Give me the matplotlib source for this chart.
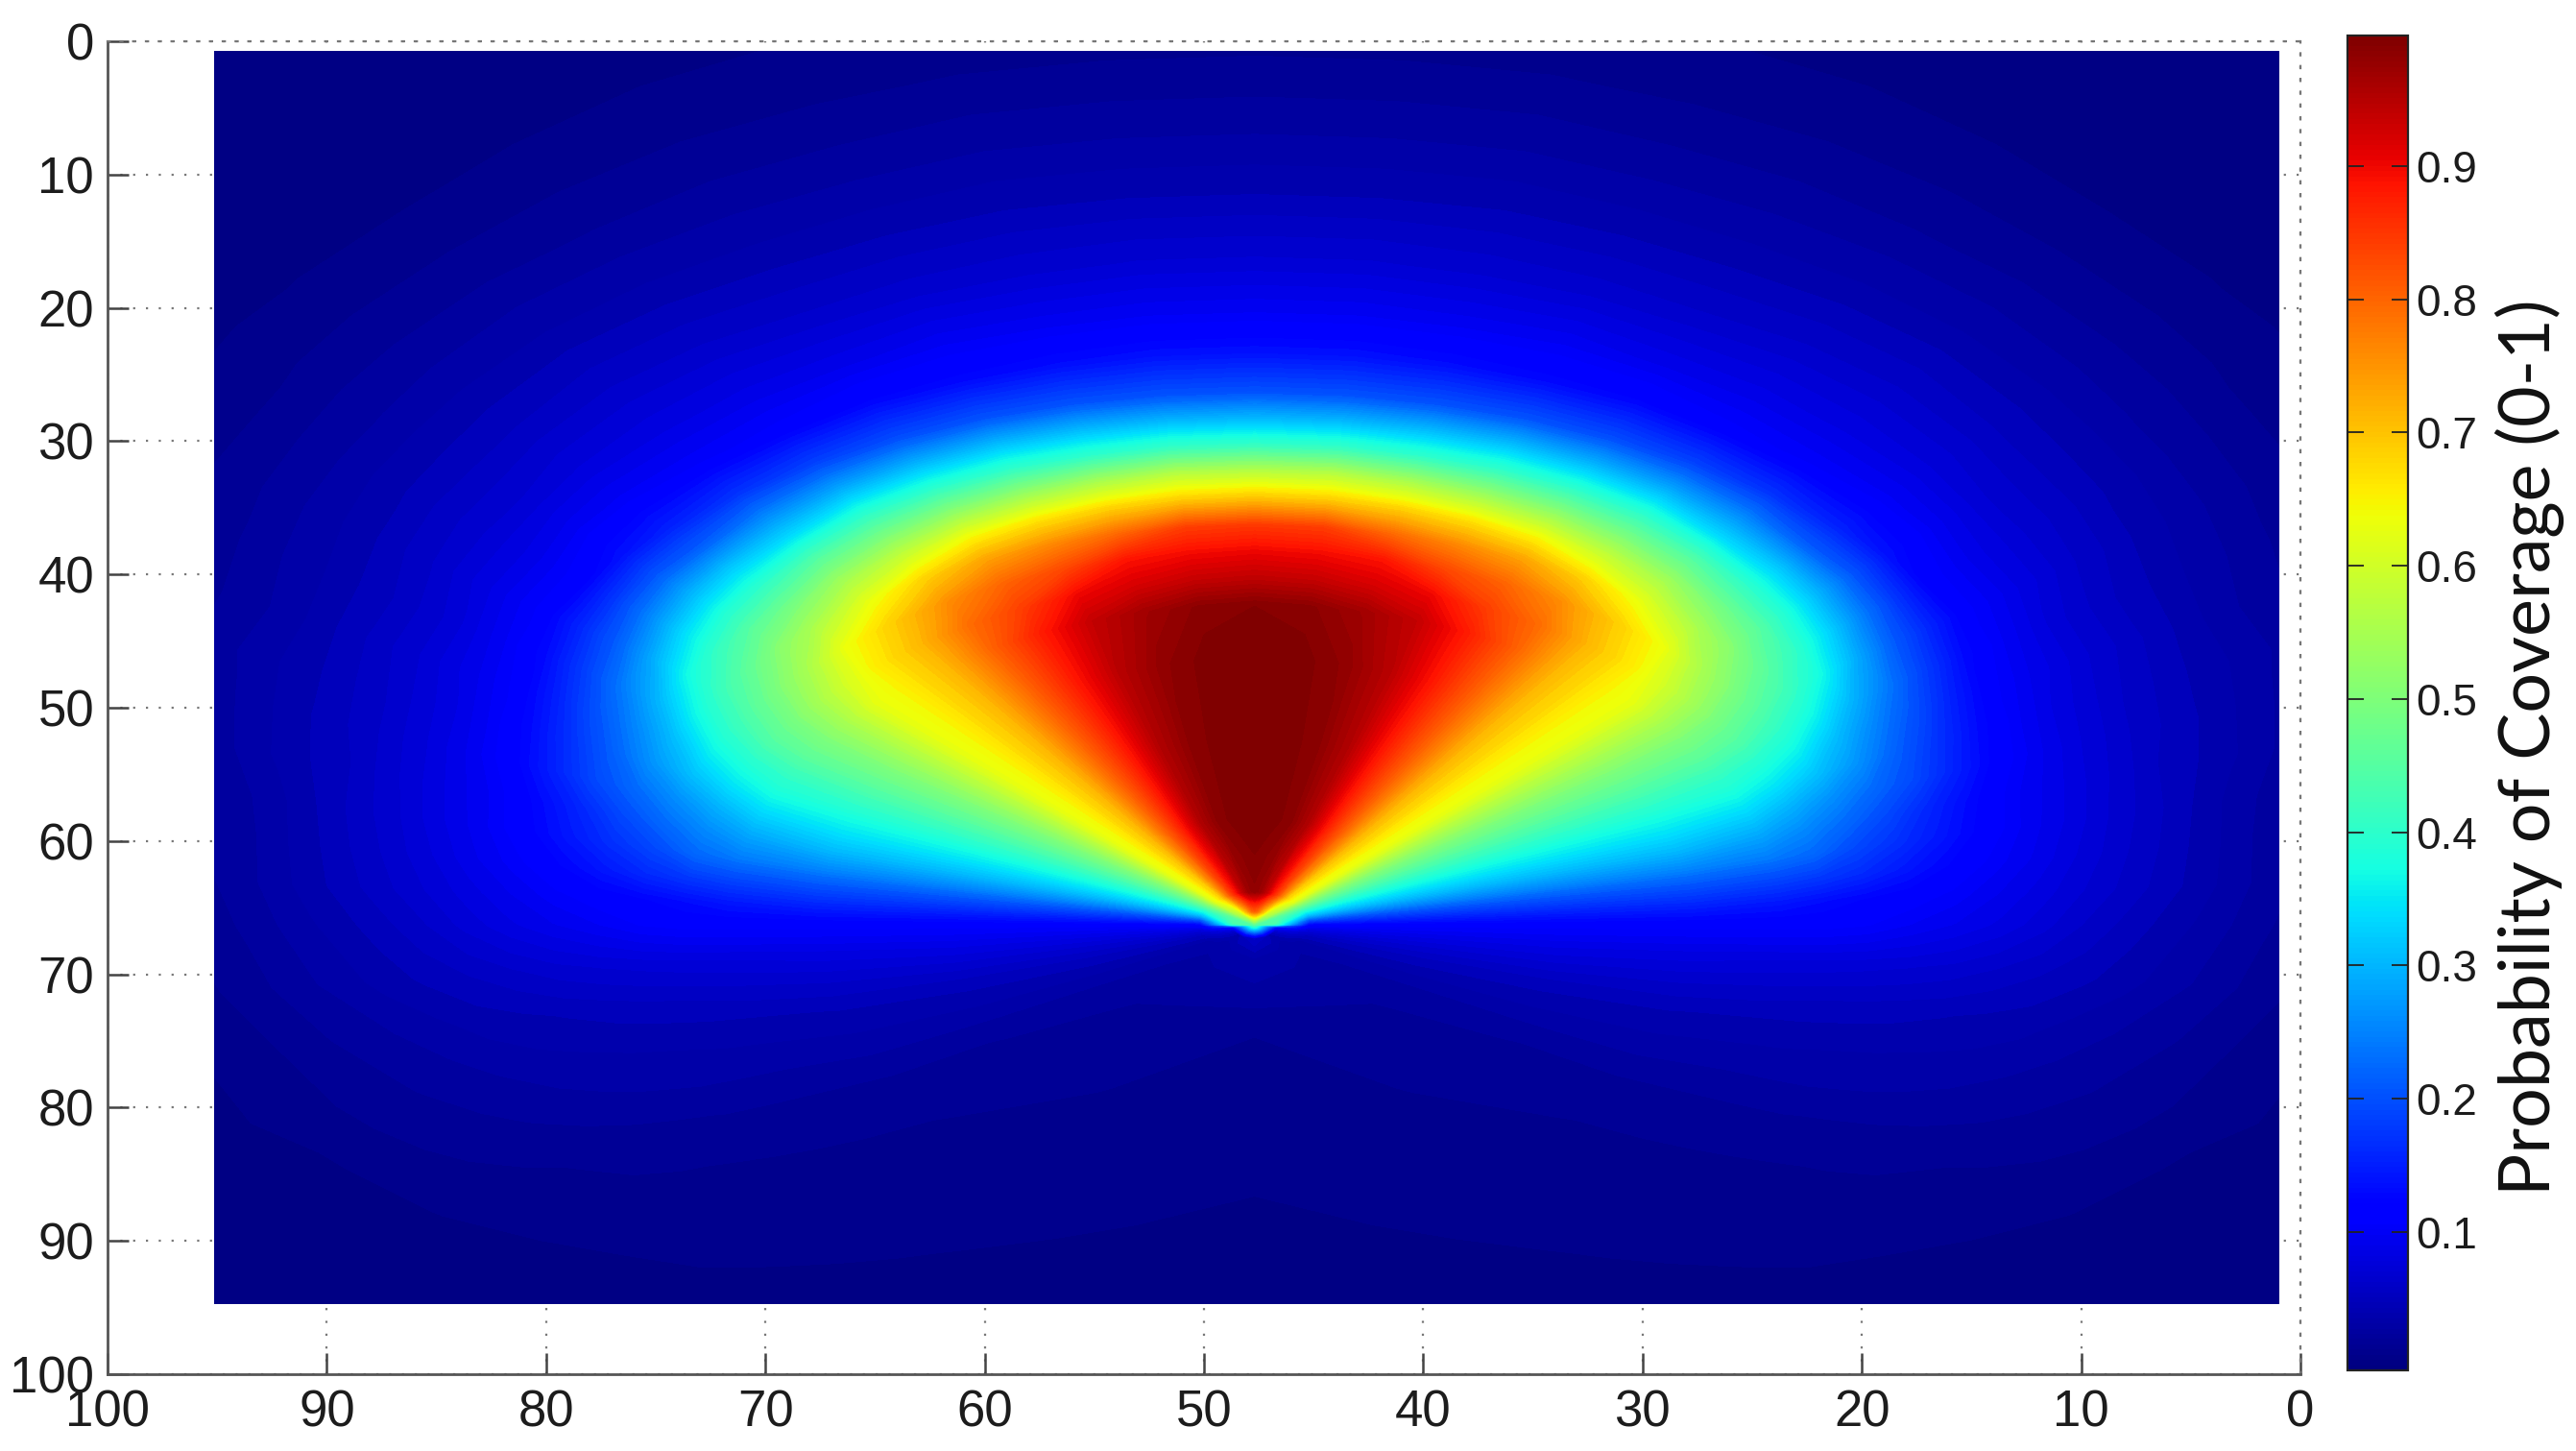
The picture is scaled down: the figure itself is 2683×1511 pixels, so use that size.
import numpy as np
import matplotlib
matplotlib.use('Agg')
import matplotlib.pyplot as plt
from matplotlib.cm import ScalarMappable
from matplotlib.colors import Normalize
from matplotlib.patches import Rectangle

W, H = 2683, 1511

apex_x, apex_y = 47.7, 66.3
radius = [0, 1, 2.5, 8, 14, 20, 24, 26, 28, 30, 32, 34, 36, 38, 40, 43, 46, 50, 55, 60, 65, 70, 80, 90]
angle_deg = [0, 6, 12, 18, 24, 30, 36, 42, 46, 50, 54, 58, 62, 66, 70, 74, 78, 82, 86, 90,
             96, 102, 108, 114, 120, 126, 135, 150, 180]
coverage = [
    [.45, .80, .98, 1.0, 1.0, 1.0, .99, .94, .90, .845, .70, .57, .41, .30, .20, .134, .097, .067, .042, .025, .012, .003, 0, 0],
    [.45, .79, .97, .995, .995, .995, .985, .935, .895, .84, .695, .57, .41, .30, .20, .134, .097, .067, .042, .025, .012, .003, 0, 0],
    [.45, .76, .94, .985, .985, .98, .965, .92, .885, .794, .68, .55, .40, .30, .20, .13, .095, .065, .042, .025, .012, .003, 0, 0],
    [.45, .72, .89, .95, .95, .945, .935, .90, .832, .76, .66, .53, .40, .30, .20, .125, .095, .063, .04, .023, .011, .003, 0, 0],
    [.45, .68, .84, .88, .88, .88, .875, .84, .80, .735, .635, .51, .39, .29, .195, .122, .088, .06, .038, .022, .01, .002, 0, 0],
    [.45, .62, .77, .80, .80, .80, .80, .79, .755, .685, .585, .48, .375, .275, .185, .11, .085, .06, .037, .02, .008, 0, 0, 0],
    [.45, .58, .69, .71, .71, .71, .71, .71, .69, .625, .54, .445, .335, .25, .17, .103, .08, .058, .035, .018, .005, 0, 0, 0],
    [.45, .56, .64, .65, .65, .65, .65, .65, .63, .555, .48, .395, .31, .21, .15, .10, .075, .052, .031, .015, .004, 0, 0, 0],
    [.45, .54, .62, .625, .625, .625, .625, .60, .56, .515, .45, .37, .285, .20, .135, .095, .068, .048, .028, .013, .003, 0, 0, 0],
    [.45, .51, .56, .565, .565, .565, .56, .545, .51, .465, .41, .335, .25, .175, .115, .085, .065, .045, .025, .01, .001, 0, 0, 0],
    [.45, .485, .51, .51, .51, .51, .505, .49, .46, .42, .365, .285, .21, .155, .11, .082, .06, .04, .022, .008, 0, 0, 0, 0],
    [.45, .455, .465, .465, .465, .465, .46, .445, .41, .365, .30, .24, .18, .13, .10, .07, .052, .035, .018, .005, 0, 0, 0, 0],
    [.45, .45, .42, .42, .42, .42, .41, .39, .36, .305, .25, .20, .15, .11, .09, .067, .05, .03, .014, .002, 0, 0, 0, 0],
    [.45, .45, .375, .375, .375, .375, .37, .345, .31, .265, .215, .17, .13, .10, .08, .06, .045, .03, .012, 0, 0, 0, 0, 0],
    [.45, .45, .34, .34, .34, .34, .325, .295, .26, .225, .19, .15, .115, .092, .075, .055, .042, .025, .01, 0, 0, 0, 0, 0],
    [.45, .44, .30, .30, .30, .30, .28, .255, .225, .19, .155, .125, .10, .085, .07, .05, .038, .02, .008, 0, 0, 0, 0, 0],
    [.45, .44, .25, .25, .25, .25, .24, .225, .19, .165, .14, .115, .095, .08, .065, .047, .03, .015, .005, 0, 0, 0, 0, 0],
    [.45, .43, .195, .195, .195, .195, .185, .175, .16, .14, .12, .102, .088, .073, .06, .043, .027, .013, .002, 0, 0, 0, 0, 0],
    [.45, .42, .15, .15, .15, .15, .14, .13, .12, .112, .102, .09, .078, .066, .055, .04, .025, .01, .002, 0, 0, 0, 0, 0],
    [.45, .38, .11, .11, .11, .11, .11, .11, .106, .097, .089, .08, .069, .057, .047, .034, .021, .008, 0, 0, 0, 0, 0, 0],
    [.45, .20, .085, .085, .085, .08, .075, .073, .07, .067, .063, .057, .051, .045, .038, .027, .016, .004, 0, 0, 0, 0, 0, 0],
    [.45, .12, .065, .065, .065, .06, .055, .052, .05, .047, .044, .041, .038, .032, .027, .019, .01, .002, 0, 0, 0, 0, 0, 0],
    [.45, .09, .05, .05, .047, .044, .04, .039, .037, .036, .034, .032, .028, .024, .02, .014, .007, .001, 0, 0, 0, 0, 0, 0],
    [.45, .07, .042, .04, .038, .035, .032, .031, .03, .028, .026, .023, .02, .017, .014, .009, .002, 0, 0, 0, 0, 0, 0, 0],
    [.45, .06, .032, .03, .028, .026, .022, .021, .02, .018, .016, .014, .012, .01, .008, .004, .001, 0, 0, 0, 0, 0, 0, 0],
    [.45, .05, .03, .024, .02, .017, .015, .014, .013, .012, .011, .01, .008, .006, .004, .002, 0, 0, 0, 0, 0, 0, 0, 0],
    [.45, .04, .028, .02, .016, .012, .01, .009, .008, .007, .006, .005, .004, .002, .001, 0, 0, 0, 0, 0, 0, 0, 0, 0],
    [.45, .05, .03, .017, .012, .008, .006, .005, .004, .003, .002, .001, 0, 0, 0, 0, 0, 0, 0, 0, 0, 0, 0, 0],
    [.45, .06, .035, .012, .007, .004, .002, .001, 0, 0, 0, 0, 0, 0, 0, 0, 0, 0, 0, 0, 0, 0, 0, 0],
]

x_ticks = [100, 90, 80, 70, 60, 50, 40, 30, 20, 10, 0]
y_ticks = [0, 10, 20, 30, 40, 50, 60, 70, 80, 90, 100]
bar_ticks = [0.1, 0.2, 0.3, 0.4, 0.5, 0.6, 0.7, 0.8, 0.9]
bar_label = 'Probability of Coverage (0-1)'

plt.rcParams['font.family'] = ['Liberation Sans', 'DejaVu Sans']

fig = plt.figure(figsize=(W / 100, H / 100), dpi=100)
ax = fig.add_axes([112 / W, 1 - 1431 / H, (2396 - 112) / W, (1431 - 43) / H])
ax.set_xlim(100, 0)
ax.set_ylim(100, 0)

# field, one half of the fan per side
norm = Normalize(-0.004, 0.998)
levels = np.linspace(-0.004, 0.998, 129)
r, a = np.meshgrid(radius, np.radians(angle_deg))
z = np.array(coverage)
clip = Rectangle((0.96, 0.75), 94.19, 94.0, transform=ax.transData)
for side in (-1, 1):
    cs = ax.contourf(apex_x + side * r * np.sin(a), apex_y - r * np.cos(a), z,
                     levels=levels, cmap='jet', norm=norm, extend='max', zorder=3)
    cs.set_clip_path(clip)

# axes look
ax.set_xticks(x_ticks)
ax.set_yticks(y_ticks)
ax.grid(True, linestyle=(0, (1, 5)), linewidth=1.6, color='#777777', zorder=1)
ax.set_axisbelow(True)
ax.tick_params(direction='in', length=16, width=1.8, color='#444444',
               labelsize=38, labelcolor='#1c1c1c', pad=10)
ax.tick_params(axis='x', pad=11)
for name in ('left', 'bottom'):
    ax.spines[name].set_linewidth(2.0)
    ax.spines[name].set_color('#555555')
for name in ('top', 'right'):
    ax.spines[name].set_linewidth(1.6)
    ax.spines[name].set_color('#777777')
    ax.spines[name].set_linestyle((0, (1, 5)))

# colorbar
cax = fig.add_axes([2445 / W, 1 - 1427 / H, (2508 - 2445) / W, (1427 - 37) / H])
cb = fig.colorbar(ScalarMappable(norm=norm, cmap='jet'), cax=cax)
cb.set_ticks(bar_ticks)
cb.set_ticklabels(['%.1f' % t for t in bar_ticks])
cb.outline.set_linewidth(1.6)
cb.outline.set_edgecolor('#222222')
cax.tick_params(which='both', left=True, right=True, direction='in', length=12,
                width=1.3, color='#222222', labelsize=33, labelcolor='#1c1c1c', pad=6)
cax.minorticks_off()

fig.text(2635 / W, 1 - 778 / H, bar_label, rotation=90, ha='center', va='center',
         fontsize=53, color='#111111', family=['Lato', 'DejaVu Sans'])

fig.savefig('out.png', dpi=100)
